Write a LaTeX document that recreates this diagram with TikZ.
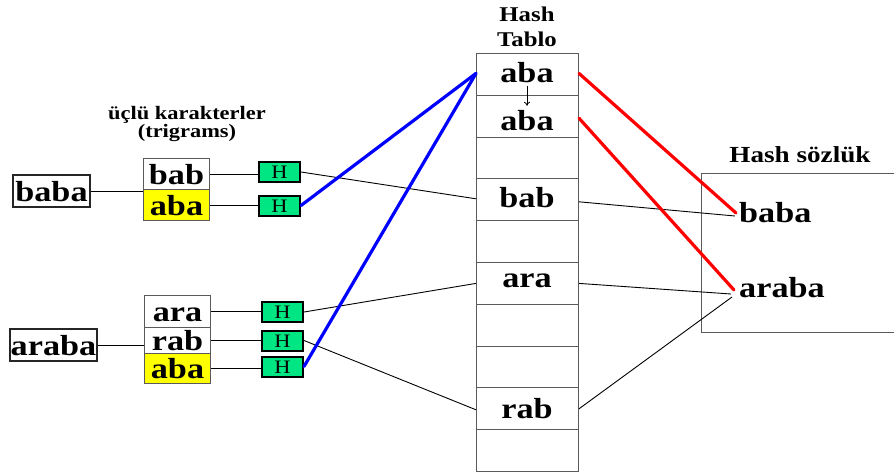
\documentclass[tikz,border=0pt]{standalone}
\usepackage{fontspec}
\setmainfont{Liberation Serif}[FakeStretch=1.18]
\usetikzlibrary{arrows.meta,calc}
\definecolor{hgreen}{RGB}{0,230,130}
\definecolor{tyellow}{RGB}{255,255,0}
\definecolor{edgegray}{RGB}{90,90,90}
\begin{document}
\begin{tikzpicture}[x=1pt,y=-1pt,
  big/.style={font=\bfseries\fontsize{29}{29}\selectfont, text height=20pt, text depth=0pt},
  title/.style={font=\bfseries\fontsize{#1}{#1}\selectfont, align=center, inner sep=0pt},
  wordbox/.style={draw=black!85, line width=1.4pt, inner sep=0pt, minimum height=32pt, big},
  tri/.style={draw=edgegray, line width=1pt, minimum width=66pt, inner sep=0pt, anchor=north west, big},
  hbox/.style={draw=black, line width=2pt, fill=hgreen, minimum width=41pt, minimum height=20pt,
    inner sep=0pt, anchor=north west, font=\fontsize{19}{19}\selectfont, text height=13pt, text depth=0pt},
  hrow/.style={draw=edgegray, line width=1pt, minimum width=102pt, minimum height=41.8pt,
    inner sep=0pt, anchor=north west},
  txt/.style={big, inner sep=0pt},
  thin/.style={draw=black, line width=0.9pt},
  blueline/.style={draw=blue, line width=3.2pt, line cap=round},
  redline/.style={draw=red, line width=3.2pt, line cap=round}
]
\useasboundingbox (0,0) rectangle (894,474);

% titles
\node[title=19] (ttri) at (187,124) {üçlü karakterler\\[-1pt](trigrams)};
\node[title=21, anchor=base] (thash) at (527,21) {Hash};
\node[title=21, anchor=base] (ttablo) at (527,46) {Tablo};
\node[title=23, anchor=base] (tsoz) at (800,162) {Hash sözlük};

% words
\node[wordbox, minimum width=77pt] (baba) at (51.5,191) {baba};
\node[wordbox, minimum width=87pt] (araba) at (53.5,345) {araba};

% trigrams of baba
\node[tri, minimum height=31pt] (t1) at (143,158) {bab};
\node[tri, minimum height=31pt, fill=tyellow] (t2) at (143,189) {aba};
% trigrams of araba
\node[tri, minimum height=32pt] (t3) at (144,295) {ara};
\node[tri, minimum height=26pt] (t4) at (144,327) {rab};
\node[tri, minimum height=30pt, fill=tyellow] (t5) at (144,353) {aba};

% hash function boxes
\node[hbox] (H1) at (258,161) {H};
\node[hbox] (H2) at (258,194.5) {H};
\node[hbox] (H3) at (261,301) {H};
\node[hbox] (H4) at (261,329.5) {H};
\node[hbox] (H5) at (261,355.5) {H};

% hash table rows
\foreach \i in {0,...,9} {
  \node[hrow] (h\i) at (476,{53+41.8*\i}) {};
}
\node[txt] (r0) at (527,72) {aba};
\node[txt] (r1) at (527,120) {aba};
\node[txt] (r3) at (527,197) {bab};
\node[txt] (r5) at (527,277) {ara};
\node[txt] (r8) at (527,408) {rab};
\draw[line width=0.8pt, -{To[length=4pt,width=6pt]}] ($(r0.south)+(0,4)$) -- ($(r1.north)+(0,-4)$);

% dictionary
\draw[draw=edgegray, line width=1pt] (900,173) -- (701,173) -- (701,332) -- (900,332);
\node[txt, anchor=base west] (dbaba) at (739,222) {baba};
\node[txt, anchor=base west] (daraba) at (739,297) {araba};

% connectors left
\draw[thin] (baba.east) -- (baba.east -| t1.west);
\draw[thin] (araba.east) -- (araba.east -| t4.west);
\draw[thin] (t1.east) -- (t1.east -| H1.west);
\draw[thin] (t2.east) -- (t2.east -| H2.west);
\draw[thin] (t3.east) -- (t3.east -| H3.west);
\draw[thin] (t4.east) -- (t4.east -| H4.west);
\draw[thin] (t5.east) -- (t5.east -| H5.west);

% H to hash table
\draw[thin] (H1.east) -- ($(h3.west)+(0,-1)$);
\draw[thin] (H3.east) -- ($(h5.west)+(0,0)$);
\draw[thin] (H4.east) -- ($(h8.west)+(0,1)$);
\draw[blueline] (H2.east) -- ($(h0.west)+(0,-1)$);
\draw[blueline] (H5.east) -- ($(h0.west)+(0,-1)$);

% hash table to dictionary
\draw[thin] ($(h3.east)+(0,2)$) -- ($(dbaba.west)+(-4,4)$);
\draw[thin] (h5.east) -- ($(daraba.west)+(-8,7)$);
\draw[thin] (h8.east) -- ($(daraba.west)+(-7,10)$);
\draw[redline] ($(h0.east)+(0,-1)$) -- ($(dbaba.west)+(-3,1)$);
\draw[redline] ($(h1.east)+(0,2)$) -- ($(daraba.west)+(-5,3)$);
\end{tikzpicture}
\end{document}
